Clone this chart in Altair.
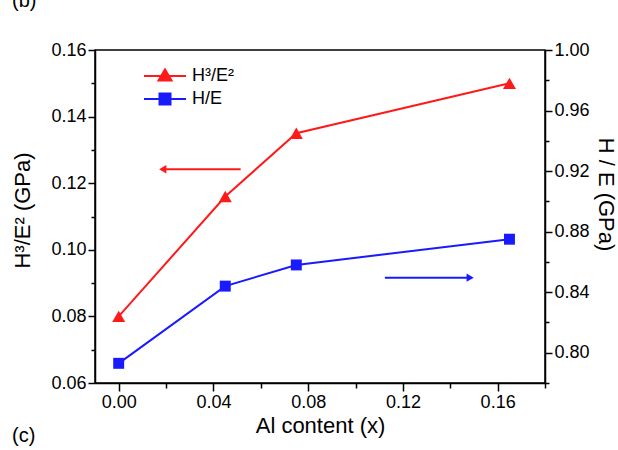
import altair as alt
import pandas as pd

# ---- data ----
al_content = [0.000, 0.045, 0.075, 0.165]
h3e2 = [0.080, 0.116, 0.135, 0.150]          # left axis
he = [0.793, 0.844, 0.858, 0.875]            # right axis

left_ticks = [0.06, 0.07, 0.08, 0.09, 0.10, 0.11, 0.12, 0.13, 0.14, 0.15, 0.16]
right_ticks = [0.78, 0.80, 0.82, 0.84, 0.86, 0.88, 0.90, 0.92, 0.94, 0.96, 0.98, 1.00]
x_ticks = [0.00, 0.02, 0.04, 0.06, 0.08, 0.10, 0.12, 0.14, 0.16, 0.18]

series_names = ["H³/E²", "H/E"]

# annotation arrows (data coordinates)
red_arrow_x = [0.0515, 0.0186]
red_arrow_y = [0.1242, 0.1242]
blue_arrow_x = [0.1124, 0.1484]
blue_arrow_y = [0.8496, 0.8496]

FONT = "Liberation Sans"
RED = "#ff1a1a"
BLUE = "#1a1aff"

left_df = pd.DataFrame({"x": al_content, "y": h3e2, "series": series_names[0]})
right_df = pd.DataFrame({"x": al_content, "y": he, "series": series_names[1]})
red_arrow_df = pd.DataFrame({"x": [red_arrow_x[0]], "x2": [red_arrow_x[1]], "y": [red_arrow_y[0]]})
red_head_df = pd.DataFrame({"x": [red_arrow_x[1]], "y": [red_arrow_y[1]]})
blue_arrow_df = pd.DataFrame({"x": [blue_arrow_x[0]], "x2": [blue_arrow_x[1]], "y": [blue_arrow_y[0]]})
blue_head_df = pd.DataFrame({"x": [blue_arrow_x[1]], "y": [blue_arrow_y[1]]})


def cond(test, major, minor):
    return {"condition": {"test": test, "value": major}, "value": minor}


axis_common = dict(
    grid=False, domainColor="black", tickColor="black", domainWidth=1.5, tickWidth=1.5,
    labelFont=FONT, titleFont=FONT, labelFontSize=18, titleFontSize=22,
    labelColor="black", titleColor="black", titleFontWeight="normal",
    labelOverlap=False, labelFlush=False,
)

x_major = "round(datum.value*100) % 4 == 0"
x_axis = alt.Axis(
    values=x_ticks, title="Al content (x)",
    labelExpr=f"{x_major} ? format(datum.value, '.2f') : ''",
    tickSize=cond(x_major, 8, 5), labelPadding=2, titlePadding=4, **axis_common,
)
x_scale = alt.Scale(domain=[-0.01, 0.18], nice=False, zero=False)

l_major = "round(datum.value*100) % 2 == 0"
left_axis = alt.Axis(
    values=left_ticks, title="H³/E² (GPa)", orient="left",
    labelExpr=f"{l_major} ? format(datum.value, '.2f') : ''",
    tickSize=cond(l_major, 7, 4), labelPadding=2, titlePadding=16, titleY=160,
    **axis_common,
)
left_scale = alt.Scale(domain=[0.06, 0.16], nice=False, zero=False)

r_major = "round(datum.value*100) % 4 == 0"
right_axis = alt.Axis(
    values=right_ticks, title="H / E (GPa)", orient="right",
    labelExpr=f"{r_major} ? format(datum.value, '.2f') : ''",
    tickSize=cond(r_major, 7, 4), labelPadding=2, titlePadding=4, titleY=144,
    **axis_common,
)
right_scale = alt.Scale(domain=[0.78, 1.00], nice=False, zero=False)

tri_path = "M-2.1,0H2.1M-0.65,0.45L0,-0.65L0.65,0.45Z"
sq_path = "M-2.1,0H2.1M-0.55,-0.55H0.55V0.55H-0.55Z"


def legend(path, color, ly):
    return alt.Legend(
        title=None, orient="none", legendX=59, legendY=ly, padding=0,
        symbolType=path, symbolSize=400, symbolFillColor=color, symbolStrokeColor=color,
        symbolStrokeWidth=2, labelFont=FONT, labelFontSize=18, labelColor="black",
        labelOffset=16,
    )


X = alt.X("x:Q", scale=x_scale, axis=x_axis)
X2 = alt.X2("x2:Q")

# ---- left series ----
LY = alt.Y("y:Q", scale=left_scale, axis=left_axis)
left_line = alt.Chart(left_df).mark_line(color=RED, strokeWidth=2).encode(x=X, y=LY)
left_pts = alt.Chart(left_df).mark_point(shape="triangle-up", filled=True, size=170, opacity=1).encode(
    x=X, y=LY,
    color=alt.Color("series:N", scale=alt.Scale(domain=[series_names[0]], range=[RED]),
                    legend=legend(tri_path, RED, 15)),
)
red_arrow = alt.Chart(red_arrow_df).mark_rule(color=RED, strokeWidth=2).encode(x=X, x2=X2, y=LY)
red_head = alt.Chart(red_head_df).mark_point(shape="triangle-left", filled=True, size=70, color=RED, opacity=1).encode(
    x=X, y=LY)
left_layer = alt.layer(left_line, left_pts, red_arrow, red_head)

# ---- right series ----
RY = alt.Y("y:Q", scale=right_scale, axis=right_axis)
right_line = alt.Chart(right_df).mark_line(color=BLUE, strokeWidth=2).encode(x=X, y=RY)
right_pts = alt.Chart(right_df).mark_point(shape="square", filled=True, size=120, opacity=1).encode(
    x=X, y=RY,
    color=alt.Color("series:N", scale=alt.Scale(domain=[series_names[1]], range=[BLUE]),
                    legend=legend(sq_path, BLUE, 38)),
)
blue_arrow = alt.Chart(blue_arrow_df).mark_rule(color=BLUE, strokeWidth=2).encode(x=X, x2=X2, y=RY)
blue_head = alt.Chart(blue_head_df).mark_point(shape="triangle-right", filled=True, size=70, color=BLUE, opacity=1).encode(
    x=X, y=RY)
right_layer = alt.layer(right_line, right_pts, blue_arrow, blue_head)

# ---- panel letters ----
labels_df = pd.DataFrame({"t": ["(c)", "(b)"]})
panel_c = alt.Chart(labels_df[labels_df.t == "(c)"]).mark_text(
    font=FONT, fontSize=20, color="black", align="left", baseline="middle"
).encode(x=alt.value(-83), y=alt.value(386), text="t:N")
panel_b = alt.Chart(labels_df[labels_df.t == "(b)"]).mark_text(
    font=FONT, fontSize=20, color="black", align="left", baseline="alphabetic"
).encode(x=alt.value(-83), y=alt.value(-43), text="t:N")

chart = alt.layer(left_layer, right_layer, panel_c, panel_b).resolve_scale(
    y="independent", color="independent"
).properties(
    width=450, height=333,
    padding={"left": 95, "top": 50, "right": 73, "bottom": 67},
    autosize="none",
    background="white",
).configure_view(stroke="black", strokeWidth=1.5)

chart.save("out.html", embed_options={"renderer": "svg", "actions": False})
